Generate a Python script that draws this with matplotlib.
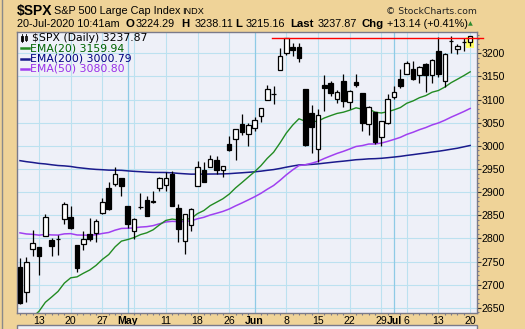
import matplotlib
matplotlib.use("Agg")
import matplotlib.pyplot as plt
import numpy as np
import pandas as pd
from matplotlib.patches import Rectangle
from matplotlib.lines import Line2D

# ---------------- data ----------------
dates = ["2020-04-07", "2020-04-08", "2020-04-09", "2020-04-13", "2020-04-14", "2020-04-15", "2020-04-16",
         "2020-04-17", "2020-04-20", "2020-04-21", "2020-04-22", "2020-04-23", "2020-04-24", "2020-04-27",
         "2020-04-28", "2020-04-29", "2020-04-30",
         "2020-05-01", "2020-05-04", "2020-05-05", "2020-05-06", "2020-05-07", "2020-05-08", "2020-05-11",
         "2020-05-12", "2020-05-13", "2020-05-14", "2020-05-15", "2020-05-18", "2020-05-19", "2020-05-20",
         "2020-05-21", "2020-05-22", "2020-05-26", "2020-05-27", "2020-05-28", "2020-05-29",
         "2020-06-01", "2020-06-02", "2020-06-03", "2020-06-04", "2020-06-05", "2020-06-08", "2020-06-09",
         "2020-06-10", "2020-06-11", "2020-06-12", "2020-06-15", "2020-06-16", "2020-06-17", "2020-06-18",
         "2020-06-19", "2020-06-22", "2020-06-23", "2020-06-24", "2020-06-25", "2020-06-26", "2020-06-29",
         "2020-06-30",
         "2020-07-01", "2020-07-02", "2020-07-06", "2020-07-07", "2020-07-08", "2020-07-09", "2020-07-10",
         "2020-07-13", "2020-07-14", "2020-07-15", "2020-07-16", "2020-07-17", "2020-07-20"]

opens = [2738.65, 2685.00, 2776.99, 2782.46, 2805.10, 2795.64, 2799.34, 2842.43, 2845.62, 2784.81, 2787.89,
         2810.42, 2812.64, 2854.65, 2909.96, 2918.46, 2930.91,
         2869.09, 2815.01, 2868.88, 2883.14, 2878.26, 2908.83, 2915.46, 2939.50, 2865.86, 2794.54, 2829.95,
         2913.86, 2948.59, 2953.63, 2969.95, 2948.05, 3004.08, 3015.65, 3046.61, 3025.17,
         3038.78, 3064.78, 3098.90, 3111.56, 3163.84, 3199.92, 3213.32, 3213.42, 3123.53, 3071.04, 2993.76,
         3131.00, 3136.13, 3101.64, 3140.29, 3094.42, 3138.70, 3114.40, 3046.60, 3073.20, 3018.59, 3050.20,
         3105.92, 3143.64, 3155.29, 3166.44, 3153.07, 3176.17, 3152.47, 3205.08, 3141.11, 3225.98, 3208.36,
         3224.21, 3224.29]
highs = [2756.89, 2760.75, 2818.57, 2782.46, 2851.85, 2801.88, 2806.51, 2879.22, 2868.98, 2785.54, 2815.10,
         2844.90, 2842.71, 2887.72, 2921.15, 2954.86, 2930.91,
         2869.09, 2844.24, 2898.23, 2891.11, 2901.92, 2932.16, 2944.25, 2945.82, 2874.14, 2852.80, 2865.01,
         2968.09, 2964.21, 2980.29, 2978.50, 2956.76, 3021.72, 3036.25, 3068.67, 3049.17,
         3062.18, 3081.07, 3130.94, 3128.91, 3211.72, 3233.13, 3222.71, 3223.27, 3123.53, 3088.42, 3079.76,
         3153.45, 3141.16, 3120.00, 3155.53, 3120.92, 3154.90, 3115.01, 3086.25, 3073.73, 3053.89, 3111.51,
         3128.44, 3165.81, 3182.59, 3184.15, 3171.80, 3179.78, 3186.82, 3235.32, 3200.95, 3238.28, 3220.39,
         3233.52, 3238.11]
lows = [2657.67, 2663.30, 2762.36, 2721.17, 2805.10, 2761.54, 2764.32, 2830.88, 2820.43, 2727.10, 2775.95,
        2794.26, 2791.76, 2852.89, 2860.71, 2912.16, 2892.47,
        2821.61, 2797.85, 2863.55, 2847.65, 2876.48, 2902.88, 2903.44, 2869.59, 2793.15, 2766.64, 2816.78,
        2913.86, 2922.35, 2953.63, 2938.57, 2933.59, 2988.17, 2969.75, 3023.40, 2998.61,
        3031.54, 3051.64, 3098.90, 3090.41, 3163.84, 3196.00, 3193.11, 3181.49, 2999.49, 2984.47, 2965.66,
        3076.06, 3108.03, 3093.51, 3083.11, 3079.39, 3127.12, 3032.13, 3024.01, 3004.63, 2999.74, 3047.83,
        3101.96, 3124.52, 3155.29, 3142.93, 3136.53, 3115.70, 3136.22, 3149.43, 3127.66, 3200.76, 3198.59,
        3205.65, 3215.16]
closes = [2659.41, 2749.98, 2789.82, 2761.63, 2846.06, 2783.36, 2799.55, 2874.56, 2823.16, 2736.56, 2799.31,
          2797.80, 2836.74, 2878.48, 2863.39, 2939.51, 2912.43,
          2830.71, 2842.74, 2868.44, 2848.42, 2881.19, 2929.80, 2930.32, 2870.12, 2820.00, 2852.50, 2863.70,
          2953.91, 2922.94, 2971.61, 2948.51, 2955.45, 2991.77, 3036.13, 3029.73, 3044.31,
          3055.73, 3080.82, 3122.87, 3112.35, 3193.93, 3232.39, 3207.18, 3190.14, 3002.10, 3041.31, 3066.59,
          3124.74, 3113.49, 3115.34, 3097.74, 3117.86, 3131.29, 3050.33, 3083.76, 3009.05, 3053.24, 3100.29,
          3115.86, 3130.01, 3179.72, 3145.32, 3169.94, 3152.05, 3185.04, 3155.22, 3197.52, 3226.56, 3215.57,
          3224.73, 3237.87]

ema20 = [2598.8, 2613.2, 2630.0, 2642.5, 2661.9, 2673.4, 2685.4, 2703.4, 2714.8, 2716.9, 2724.7, 2731.7,
         2741.7, 2754.7, 2765.1, 2781.7, 2794.1, 2797.6, 2801.9, 2808.2, 2812.1, 2818.6, 2829.2, 2838.8,
         2841.8, 2839.7, 2840.9, 2843.1, 2853.6, 2860.2, 2870.8, 2878.2, 2885.6, 2895.7, 2909.1, 2920.6,
         2932.4, 2944.1, 2957.1, 2972.9, 2986.2, 3006.0, 3027.5, 3044.6, 3058.5, 3053.1, 3052.0, 3053.4,
         3060.2, 3065.3, 3070.0, 3072.7, 3077.0, 3082.2, 3079.1, 3079.6, 3072.8, 3071.0, 3073.8, 3077.8,
         3082.8, 3092.0, 3097.1, 3104.0, 3108.6, 3115.9, 3119.6, 3127.0, 3136.5, 3144.0, 3151.7, 3159.94]
ema50 = [2812.0, 2809.6, 2808.8, 2807.0, 2808.5, 2807.5, 2807.2, 2809.8, 2810.3, 2807.4, 2807.1, 2806.7,
         2807.9, 2810.7, 2812.8, 2817.8, 2821.5, 2821.9, 2822.7, 2824.5, 2825.4, 2827.6, 2831.6, 2835.5,
         2836.9, 2836.2, 2836.8, 2837.9, 2842.4, 2845.6, 2850.5, 2854.3, 2858.3, 2863.5, 2870.3, 2876.5,
         2883.1, 2889.9, 2897.4, 2906.2, 2914.3, 2925.3, 2937.3, 2947.9, 2957.4, 2959.2, 2962.4, 2966.5,
         2972.7, 2978.2, 2983.6, 2988.1, 2993.2, 2998.6, 3000.6, 3003.9, 3004.1, 3006.0, 3009.7, 3013.9,
         3018.4, 3024.7, 3029.4, 3034.9, 3039.5, 3045.2, 3049.5, 3055.3, 3062.0, 3068.0, 3074.1, 3080.80]
ema200 = [2968.0, 2965.8, 2964.1, 2962.1, 2960.9, 2959.1, 2957.5, 2956.7, 2955.4, 2953.2, 2951.7, 2950.2,
          2949.1, 2948.4, 2947.5, 2947.4, 2947.1, 2945.9, 2944.9, 2944.1, 2943.2, 2942.6, 2942.5, 2942.4,
          2941.7, 2940.5, 2939.6, 2938.8, 2939.0, 2938.8, 2939.1, 2939.2, 2939.4, 2939.9, 2940.9, 2941.8,
          2942.8, 2943.9, 2945.3, 2947.1, 2948.7, 2951.1, 2953.9, 2956.4, 2958.7, 2959.1, 2959.9, 2961.0,
          2962.6, 2964.1, 2965.6, 2966.9, 2968.4, 2970.0, 2970.8, 2971.9, 2972.3, 2973.1, 2974.4, 2975.8,
          2977.3, 2979.3, 2981.0, 2982.9, 2984.6, 2986.6, 2988.3, 2990.4, 2992.7, 2994.9, 2997.9, 3000.79]

x_labels = [("2020-04-13", "13"), ("2020-04-20", "20"), ("2020-04-27", "27"), ("2020-05-01", "May"),
            ("2020-05-11", "11"), ("2020-05-18", "18"), ("2020-05-26", "26"), ("2020-06-01", "Jun"),
            ("2020-06-08", "8"), ("2020-06-15", "15"), ("2020-06-22", "22"), ("2020-06-29", "29"),
            ("2020-07-01", "Jul"), ("2020-07-06", "6"), ("2020-07-13", "13"), ("2020-07-20", "20")]
month_labels = ["May", "Jun", "Jul"]
y_ticks = [2650, 2700, 2750, 2800, 2850, 2900, 2950, 3000, 3050, 3100, 3150, 3200]

resistance_level = 3232.39
resistance_start = 39.75   # trading-day position where the drawn line begins

symbol = "$SPX"
name = "S&P 500 Large Cap Index"
exchange = "INDX"
stamp = "20-Jul-2020 10:41am"
q_open, q_high, q_low, q_last = "3224.29", "3238.11", "3215.16", "3237.87"
q_chg = "+13.14 (+0.41%)"

# ---------------- style ----------------
TAN = "#EFD398"
PLOT_BG = "#EEF0F8"
GRID = "#BCE1F0"
GRID_MONTH = "#8ECAE6"
SPINE = "#7A7A8A"
C20, C50, C200 = "#228B22", "#A040F0", "#1A1A8C"

W, H = 525, 329
fig = plt.figure(figsize=(W / 100, H / 100), dpi=100, facecolor=TAN)


def fx(px):
    return px / W


def fy(py):
    return 1 - py / H


L, R, T, B = 17, 477, 32, 313
ax = fig.add_axes([fx(L), fy(B), (R - L) / W, (B - T) / H])
ax.set_facecolor(PLOT_BG)

n = len(dates)
xs = np.arange(n)
ax.set_xlim(-0.47, n + 0.08)
ax.set_ylim(2638.8, 3246)

dt = pd.to_datetime(pd.Series(dates))
pos = {d: i for i, d in enumerate(dates)}

# grid lines
for yv in y_ticks:
    ax.axhline(yv, color=GRID, lw=0.8, zorder=0)
week = dt.dt.isocalendar().week
week_starts = [i for i in range(1, n) if week[i] != week[i - 1]]
month_starts = [i for i in range(1, n) if dt[i].month != dt[i - 1].month]
for i in week_starts:
    if i not in month_starts:
        ax.axvline(i, color=GRID, lw=0.8, zorder=0)
for i in month_starts:
    ax.axvline(i, color=GRID_MONTH, lw=0.9, zorder=0)

# EMAs
ax.plot(xs, ema200, color=C200, lw=1.1, zorder=2)
ax.plot(xs, ema50, color=C50, lw=1.1, zorder=2)
ax.plot(xs, ema20, color=C20, lw=1.0, zorder=2)

# last-bar highlight
last = n - 1
ax.add_patch(Rectangle((last - 0.65, lows[last] - 4), 1.3, highs[last] - lows[last] + 2,
                       facecolor="#FFFF66", edgecolor="none", zorder=1.5))

# candles
o = np.array(opens); c = np.array(closes); h = np.array(highs); lo = np.array(lows)
ax.vlines(xs, lo, h, color="black", lw=0.9, zorder=3)
up = c >= o
bw = 0.72
ax.bar(xs[up], (c - o)[up], bottom=o[up], width=bw, facecolor="white", edgecolor="black",
       linewidth=0.9, zorder=4)
ax.bar(xs[~up], (o - c)[~up], bottom=c[~up], width=bw, facecolor="black", edgecolor="black",
       linewidth=0.9, zorder=4)

# resistance line
ax.plot([resistance_start, n + 1.1], [resistance_level, resistance_level], color="#FF0000",
        lw=1.0, zorder=5, clip_on=False)

# axes styling
for s in ax.spines.values():
    s.set_color(SPINE)
    s.set_linewidth(1.0)
ax.yaxis.tick_right()
ax.set_yticks(y_ticks)
ax.set_yticklabels([str(v) for v in y_ticks])
ax.set_yticks(np.arange(2640, 3250, 10), minor=True)
ax.tick_params(axis="y", which="major", length=3, width=0.8, color="#333333", pad=0.5,
               labelsize=7.6, labelfontfamily="Liberation Sans")
ax.tick_params(axis="y", which="minor", length=1.3, width=0.8, color=SPINE)
ax.set_xticks([pos[d] for d, _ in x_labels])
ax.set_xticklabels([lab for _, lab in x_labels])
ax.set_xticks(xs, minor=True)
ax.tick_params(axis="x", which="major", length=0, pad=2.5, labelsize=7.6,
               labelfontfamily="Liberation Sans")
ax.tick_params(axis="x", which="minor", length=1.5, width=0.8, color=SPINE)
for t in ax.get_xticklabels():
    if t.get_text() in month_labels:
        t.set_fontweight("bold")

# legend (inside plot, top-left)
fig.add_artist(Rectangle((fx(21), fy(40.5)), 2.2 / W, 5 / H, transform=fig.transFigure,
                         facecolor="black", edgecolor="black", lw=0.6))
fig.add_artist(Line2D([fx(22.1), fx(22.1)], [fy(42), fy(34)], transform=fig.transFigure, color="black", lw=0.6))
fig.add_artist(Rectangle((fx(24.5), fy(39.5)), 2.2 / W, 4 / H, transform=fig.transFigure,
                         facecolor="white", edgecolor="black", lw=0.6))
fig.add_artist(Line2D([fx(25.6), fx(25.6)], [fy(41), fy(33.5)], transform=fig.transFigure, color="black", lw=0.6))
LF = dict(family="DejaVu Sans", fontsize=7.8, va="center", ha="left")
fig.text(fx(32), fy(37.7), f"{symbol} (Daily) {q_last}", color="black", **LF)
for yy, col, lc, txt in [(48.3, "#006400", C20, f"EMA(20) {ema20[-1]:.2f}"),
                         (58.7, "#000080", C200, f"EMA(200) {ema200[-1]:.2f}"),
                         (68.5, "#9A30E8", C50, f"EMA(50) {ema50[-1]:.2f}")]:
    fig.add_artist(Line2D([fx(20.5), fx(28.5)], [fy(yy), fy(yy)], transform=fig.transFigure,
                          color=lc, lw=1.8))
    fig.text(fx(30), fy(yy), txt, color=col, **LF)

# header
HF = dict(family="Liberation Sans", va="center", ha="left", color="black")
fig.text(fx(17), fy(11), symbol, fontsize=10, fontweight="bold", **HF)
fig.text(fx(54), fy(11), name, fontsize=7.8, **HF)
fig.text(fx(182), fy(11), exchange, fontsize=6.6, **HF)
fig.text(fx(386), fy(11), "\u00a9 StockCharts.com", fontsize=6.7, family="DejaVu Sans",
         va="center", ha="left", color="#222222")
fig.text(fx(17), fy(24), stamp, fontsize=7.8, **HF)
segs = [(125, "O", True), (136, q_open, False), (181, "H", True), (195, q_high, False),
        (235, "L", True), (246, q_low, False), (290, "Last", True), (318, q_last, False),
        (362, "Chg", True), (387, q_chg, False)]
for px, txt, bold in segs:
    fig.text(fx(px), fy(24), txt, fontsize=7.8 if not bold else 8.2,
             fontweight="bold" if bold else "normal", **HF)
fig.text(fx(470.5), fy(24), "\u25b2", fontsize=4.5, family="DejaVu Sans", color="#2E8B2E",
         va="center", ha="center")

# lower panel top edge & outer frame
fig.add_artist(Rectangle((fx(L), fy(H + 5)), (R - L) / W, 9 / H, transform=fig.transFigure,
                         facecolor=PLOT_BG, edgecolor=SPINE, lw=1.0))
fig.add_artist(Line2D([fx(1.5), fx(1.5)], [0, 1], transform=fig.transFigure, color="#8A8A8A", lw=1.0))

fig.savefig("out.png", dpi=100, facecolor=TAN)
